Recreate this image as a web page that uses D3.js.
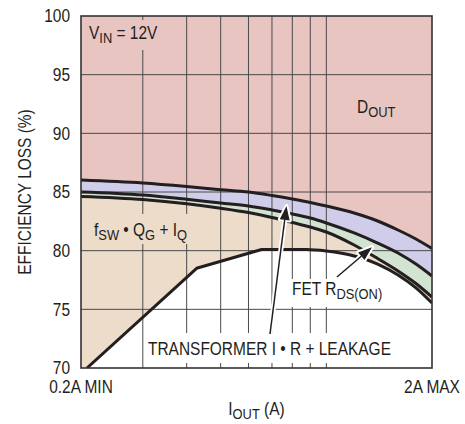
<!DOCTYPE html>
<html><head><meta charset="utf-8">
<script src="https://cdn.jsdelivr.net/npm/d3@7"></script>
<style>body{margin:0;background:#fff} svg{display:block}</style>
</head><body>
<script>
// ---- data ----
const currents = [0.2, 0.3, 0.4, 0.5, 0.6, 0.7, 0.8, 0.9, 1.0, 1.2, 1.4, 1.6, 1.8, 2.0];
const doutBoundary = [86.02, 85.77, 85.47, 85.2, 85.0, 84.70, 84.40, 84.11, 83.81, 83.21, 82.53, 81.76, 80.99, 80.18];
const fetBoundary  = [85.0, 84.74, 84.38, 84.06, 83.81, 83.47, 83.13, 82.78, 82.36, 81.51, 80.65, 79.80, 78.86, 77.84];
const fswBoundary  = [84.62, 84.36, 84.0, 83.62, 83.25, 82.83, 82.40, 82.02, 81.59, 80.48, 79.33, 78.27, 77.20, 76.05];
const transformerI    = [0.208, 0.427, 0.654, 0.878, 1.0, 1.2, 1.4, 1.6, 1.8, 2.0];
const transformerLoss = [70, 78.5, 80.1, 80.1, 79.97, 79.55, 78.86, 77.93, 76.83, 75.54];
const yTicks = [70, 75, 80, 85, 90, 95, 100];
const xGrid = [0.3, 0.4, 0.5, 0.6, 0.7, 0.8, 0.9, 1.0];
const xTickValues = [0.2, 2];
const xTickLabels = ["0.2A MIN", "2A MAX"];
</script>
<script>
const W = 465, H = 424;
const L = 81, R = 432, T = 16, B = 368;
const FONT = "'Liberation Sans', Arial, sans-serif";
const SX = 0.86; // condensed look
const colors = {pink:"#e8c5c1", blue:"#cfcde9", green:"#d3e3d1", tan:"#ecdcc9", grid:"#4a4a4a", ink:"#231f20"};

const x = d3.scaleLog().domain([0.2, 2]).range([L, R]);
const y = d3.scaleLinear().domain([70, 100]).range([B, T]);

const svg = d3.select("body").append("svg").attr("width", W).attr("height", H)
  .style("font-family", FONT).style("fill", colors.ink);

svg.append("clipPath").attr("id","clip").append("rect")
  .attr("x", L).attr("y", T).attr("width", R-L).attr("height", B-T);
const plot = svg.append("g").attr("clip-path","url(#clip)");

const toPts = (xs, ys) => xs.map((d,i)=>[x(d), y(ys[i])]);
const smooth = d3.line().curve(d3.curveMonotoneX);
const linear = d3.line();

const c1 = smooth(toPts(currents, doutBoundary));
const c2 = smooth(toPts(currents, fetBoundary));
const c3 = smooth(toPts(currents, fswBoundary));
const tp = toPts(transformerI, transformerLoss);
const c4 = linear(tp.slice(0,3)) + smooth(tp.slice(2)).replace(/^M/, "L");

const closeBelow = p => p + `L${R+5},${B+5}L${L-5},${B+5}Z`;

plot.append("rect").attr("x",L).attr("y",T).attr("width",R-L).attr("height",B-T).attr("fill",colors.pink);
plot.append("path").attr("d", closeBelow(c1)).attr("fill", colors.blue);
plot.append("path").attr("d", closeBelow(c2)).attr("fill", colors.green);
plot.append("path").attr("d", closeBelow(c3)).attr("fill", colors.tan);
plot.append("path").attr("d", closeBelow(c4)).attr("fill", "#ffffff");

// grid
plot.selectAll(".hg").data(yTicks.slice(1,-1)).join("line")
  .attr("x1",L).attr("x2",R).attr("y1",d=>y(d)).attr("y2",d=>y(d))
  .attr("stroke",colors.grid).attr("stroke-width",1);
plot.selectAll(".vg").data(xGrid).join("line")
  .attr("x1",d=>x(d)).attr("x2",d=>x(d)).attr("y1",T).attr("y2",B)
  .attr("stroke",colors.grid).attr("stroke-width",1);

// label backgrounds
plot.append("rect").attr("x",84).attr("y",20).attr("width",82).attr("height",30).attr("fill",colors.pink);
plot.append("rect").attr("x",90).attr("y",214).attr("width",106).attr("height",30).attr("fill",colors.tan);
plot.append("rect").attr("x",146).attr("y",333).attr("width",250).attr("height",30).attr("fill","#fff");
plot.append("rect").attr("x",288).attr("y",279).attr("width",98).attr("height",28).attr("fill","#fff");

// curves
[c1,c2,c3,c4].forEach(p => plot.append("path").attr("d",p).attr("fill","none")
  .attr("stroke",colors.ink).attr("stroke-width",3).attr("stroke-linejoin","round"));

// frame
svg.append("rect").attr("x",L).attr("y",T).attr("width",R-L).attr("height",B-T)
  .attr("fill","none").attr("stroke","#333").attr("stroke-width",1.6);

function label(xPos, yPos, parts, anchor, rotate) {
  const t = svg.append("text")
    .attr("transform", `translate(${xPos},${yPos})` + (rotate ? ` rotate(${rotate})` : "") + ` scale(${SX},1)`)
    .attr("font-size",18).attr("text-anchor", anchor || "start");
  let down = false;
  parts.forEach(p => {
    const [s, sub] = Array.isArray(p) ? p : [p, 0];
    const ts = t.append("tspan").text(s);
    if (sub && !down) { ts.attr("dy", 4); down = true; }
    else if (!sub && down) { ts.attr("dy", -4); down = false; }
    if (sub) ts.attr("font-size", 15);
  });
  return t;
}

// y tick labels
yTicks.forEach(v => label(70, y(v) + 6.4, [String(v)], "end"));
// x tick labels
xTickValues.forEach((v,i) => label(x(v), 393, [xTickLabels[i]], "middle"));

// axis titles
label(31, (T+B)/2, ["EFFICIENCY LOSS (%)"], "middle", -90);
label((L+R)/2, 415, ["I", ["OUT",1], " (A)"], "middle");

// annotations
label(89, 39, ["V", ["IN",1], " = 12V"]);
label(357, 113, ["D", ["OUT",1]]);
label(94, 236, ["f", ["SW",1], " • Q", ["G",1], " + I", ["Q",1]]);
label(292, 295, ["FET R", ["DS(ON)",1]]);
label(148, 355, ["TRANSFORMER I • R + LEAKAGE"]);

// arrows
function arrow(from, to) {
  const [x0,y0] = [x(from[0]), y(from[1])];
  const [x1,y1] = [x(to[0]), y(to[1])];
  const ang = Math.atan2(y1-y0, x1-x0);
  const len = 14, hw = 5;
  const bx = x1 - len*Math.cos(ang), by = y1 - len*Math.sin(ang);
  const px = -Math.sin(ang)*hw, py = Math.cos(ang)*hw;
  const tri = `M${x1},${y1}L${bx+px},${by+py}L${bx-px},${by-py}Z`;
  svg.append("line").attr("x1",x0).attr("y1",y0).attr("x2",bx).attr("y2",by)
    .attr("stroke","#fff").attr("stroke-width",5);
  svg.append("path").attr("d",tri).attr("fill","#fff").attr("stroke","#fff").attr("stroke-width",4).attr("stroke-linejoin","round");
  svg.append("line").attr("x1",x0).attr("y1",y0).attr("x2",bx).attr("y2",by)
    .attr("stroke",colors.ink).attr("stroke-width",1.5);
  svg.append("path").attr("d",tri).attr("fill",colors.ink);
}
arrow([0.691, 72.9], [0.770, 83.8]);
arrow([1.072, 77.76], [1.349, 80.3]);
</script>
</body></html>
